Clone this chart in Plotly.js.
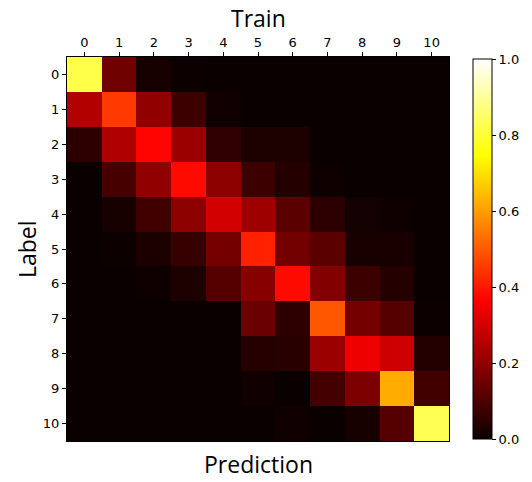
<!DOCTYPE html>
<html><head><meta charset="utf-8">
<script src="https://cdn.plot.ly/plotly-3.0.1.min.js"></script>
<style>html,body{margin:0;padding:0;background:#fff}</style>
</head><body>
<div id="chart" style="width:532px;height:482px"></div>
<script>
const predLabels = ['0','1','2','3','4','5','6','7','8','9','10'];
const trueLabels = ['0','1','2','3','4','5','6','7','8','9','10'];
const row0  = [0.82, 0.15, 0.02, 0.005, 0.0, 0.0, 0.0, 0.0, 0.0, 0.0, 0.0];
const row1  = [0.25, 0.45, 0.20, 0.074, 0.01, 0.0, 0.0, 0.0, 0.0, 0.0, 0.0];
const row2  = [0.05, 0.245, 0.37, 0.214, 0.056, 0.028, 0.028, 0.0, 0.0, 0.0, 0.0];
const row3  = [0.0, 0.089, 0.20, 0.38, 0.195, 0.075, 0.04, 0.008, 0.0, 0.0, 0.0];
const row4  = [0.0, 0.02, 0.08, 0.194, 0.30, 0.22, 0.12, 0.05, 0.014, 0.006, 0.0];
const row5  = [0.0, 0.003, 0.027, 0.066, 0.16, 0.415, 0.155, 0.12, 0.022, 0.022, 0.0];
const row6  = [0.0, 0.0, 0.006, 0.028, 0.11, 0.185, 0.38, 0.18, 0.074, 0.04, 0.0];
const row7  = [0.0, 0.0, 0.0, 0.0, 0.0, 0.145, 0.05, 0.495, 0.16, 0.11, 0.003];
const row8  = [0.0, 0.0, 0.0, 0.0, 0.0, 0.04, 0.045, 0.214, 0.34, 0.29, 0.037];
const row9  = [0.0, 0.0, 0.0, 0.0, 0.0, 0.01, 0.0, 0.085, 0.17, 0.62, 0.08];
const row10 = [0.0, 0.0, 0.0, 0.0, 0.0, 0.0, 0.01, 0.0, 0.02, 0.11, 0.83];
const matrix = [row0,row1,row2,row3,row4,row5,row6,row7,row8,row9,row10];

const hot = [[0,'rgb(10,0,0)'],[0.365079,'rgb(255,0,0)'],[0.746032,'rgb(255,255,0)'],[1,'rgb(255,255,255)']];
const tickFont = {family:'DejaVu Sans', size:13, color:'#000'};
const titleFont = {family:'Open Sans', size:23, color:'#000'};

const trace = {
  type:'heatmap', z:matrix, x:predLabels, y:trueLabels,
  colorscale:hot, zmin:0, zmax:1, showscale:true, xgap:0, ygap:0,
  colorbar:{x:1.062, xanchor:'left', xpad:0, y:0.5, yanchor:'middle', len:0.99, lenmode:'fraction',
    thickness:19, ypad:0, outlinewidth:1, outlinecolor:'#000',
    tickvals:[0,0.2,0.4,0.6,0.8,1.0], ticktext:['0.0','0.2','0.4','0.6','0.8','1.0'],
    ticks:'outside', ticklen:4, tickcolor:'#000', tickfont:tickFont}
};
const layout = {
  width:532, height:482,
  margin:{l:67, r:79, t:57, b:41, pad:0},
  paper_bgcolor:'#fff', plot_bgcolor:'#fff',
  xaxis:{side:'top', type:'category', ticks:'outside', ticklen:4, tickcolor:'#000', tickfont:tickFont,
    showline:true, linecolor:'#000', linewidth:1, mirror:true, showgrid:false, zeroline:false},
  yaxis:{type:'category', autorange:'reversed', ticks:'outside', ticklen:4, tickcolor:'#000', tickfont:tickFont,
    showline:true, linecolor:'#000', linewidth:1, mirror:true, showgrid:false, zeroline:false},
  annotations:[
    {text:'Train', xref:'paper', yref:'paper', x:0.5, y:1, yshift:39, showarrow:false, font:titleFont, xanchor:'center', yanchor:'middle'},
    {text:'Prediction', xref:'paper', yref:'paper', x:0.5, y:0, yshift:-23, showarrow:false, font:titleFont, xanchor:'center', yanchor:'middle'},
    {text:'Label', xref:'paper', yref:'paper', x:0, xshift:-40, y:0.5, textangle:-90, showarrow:false, font:titleFont, xanchor:'center', yanchor:'middle'}
  ]
};
Plotly.newPlot('chart',[trace],layout,{displayModeBar:false, staticPlot:true});
</script>
</body></html>
